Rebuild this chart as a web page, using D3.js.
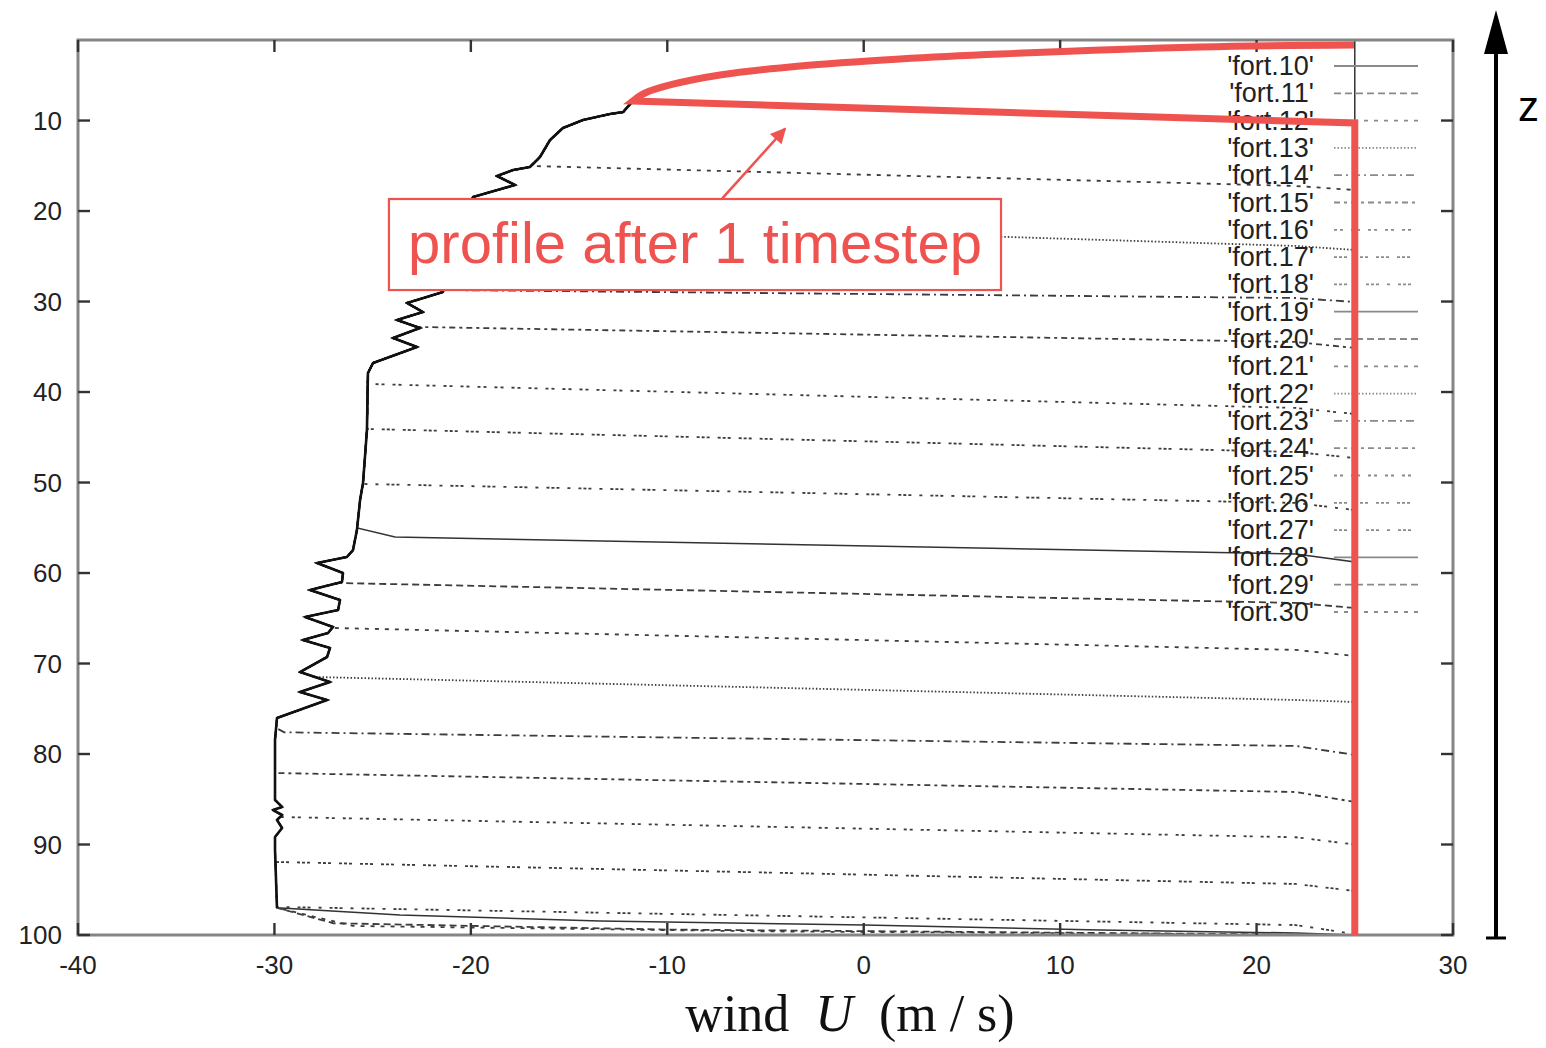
<!DOCTYPE html>
<html><head><meta charset="utf-8">
<script src="https://cdn.jsdelivr.net/npm/d3@7"></script>
<style>html,body{margin:0;padding:0;background:#fff;} svg{display:block;}</style>
</head><body><svg id="chart" width="1546" height="1048"></svg>
<script>
// Wind profiles U(z) written to fort.10 ... fort.30, one per output step.
const seriesNames = d3.range(10, 31).map(n => `'fort.${n}'`);
const xTicks = [-40, -30, -20, -10, 0, 10, 20, 30];
const yTicks = [10, 20, 30, 40, 50, 60, 70, 80, 90, 100];
const xLabel = ["wind", "U", "(m / s)"];
const boundaryU = 25;
const zTop = 1.1, zBottom = 100;

// Common upper part of every profile (u, z)
const topCurve = [
  [24.96, 1.65], [17.12, 1.87], [6.94, 2.65], [1.85, 3.20], [-3.24, 3.97],
  [-7.32, 4.97], [-9.86, 6.07], [-11.13, 6.96], [-11.75, 7.84]
];

// Region behind the fronts that all later profiles share (u, z)
const envelope = [
  [-11.75, 7.84], [-12.25, 9.06], [-12.92, 9.28], [-14.29, 9.94], [-15.31, 10.82],
  [-15.97, 12.15], [-16.48, 14.03], [-16.99, 15.13], [-17.85, 15.47], [-18.67, 16.13],
  [-17.75, 17.12], [-19.89, 18.45], [-20.55, 22.1], [-21.06, 25.96], [-21.42, 28.95],
  [-23.25, 30.16], [-22.44, 31.16], [-23.76, 32.04], [-22.59, 32.92], [-23.96, 34.03],
  [-22.74, 35.02], [-24.98, 36.79], [-25.24, 37.90], [-25.29, 44.2], [-25.49, 50.05],
  [-25.64, 51.93], [-25.80, 55.25], [-26.0, 57.46], [-26.31, 58.23], [-27.83, 58.89],
  [-26.51, 60.0], [-26.56, 60.99], [-28.19, 61.88], [-26.66, 62.98], [-26.76, 64.09],
  [-28.44, 64.86], [-27.02, 65.96], [-27.27, 66.63], [-28.55, 67.40], [-27.17, 68.28],
  [-27.32, 69.28], [-28.70, 70.94], [-27.17, 72.04], [-28.70, 73.15], [-27.32, 74.03],
  [-29.87, 76.02], [-29.97, 78.45], [-29.97, 85.08], [-29.61, 85.85], [-30.07, 86.19],
  [-29.61, 86.74], [-29.87, 87.29], [-29.61, 88.17], [-29.97, 89.17], [-29.97, 90.6],
  [-29.87, 97.0]
];

// Height where each profile leaves the shared region (null: uniform start)
const frontStartZ = [null, 7.84, 15.02, 20.99, 28.73, 32.81, 39.11, 44.08, 50.16,
  55.02, 61.1, 66.07, 71.49, 77.12, 82.1, 86.96, 91.93, 96.9, 97.0, 97.0, 97.0];

// Shape of each front after it leaves the shared region (u, z)
const frontLines = [
  [],
  [[22, 10.07], [25, 10.27]],
  [[22, 17.23], [25, 17.68]],
  [[22, 23.86], [25, 24.3]],
  [[22, 29.61], [25, 30.05]],
  [[22, 34.47], [25, 35.13]],
  [[22, 41.76], [25, 42.43]],
  [[22, 46.63], [25, 47.29]],
  [[22, 52.26], [25, 53.04]],
  [[-23.86, 56.02], [22, 57.9], [25, 58.78]],
  [[22, 63.31], [25, 63.86]],
  [[22, 68.5], [25, 69.17]],
  [[22, 74.03], [25, 74.25]],
  [[-29.5, 77.6], [22, 79.11], [25, 80.1]],
  [[22, 84.2], [25, 85.3]],
  [[22, 89.2], [25, 90.0]],
  [[22, 94.36], [25, 95.14]],
  [[22, 98.9], [25, 99.9]],
  [[-23.61, 97.79], [-13.43, 98.45], [0.01, 98.9], [12.03, 99.44], [22, 99.78], [25, 100]],
  [[-27, 98.7], [-10, 99.4], [25, 100]],
  [[-26, 99.0], [-5, 99.6], [25, 100]]
];

// Profile after the first time step, highlighted
const firstStepFront = [[-11.75, 7.84], [25, 10.27], [25, 100]];
const noteText = "profile after 1 timestep";
const noteBox = { u0: -24.17, u1: 6.99, z0: 18.67, z1: 28.73 };
const noteArrow = { from: [-7.2, 18.6], to: [-4.0, 10.9] };

// gnuplot-style monochrome line types, cycling every nine files
const dashTypes = [null, "7,4", "4,6", "1.5,2", "8,4,2,4", "6,4,3,4", "3,3,3,8", "3,2,3,2,3,8", "3,2,3,2,3,8,3,8"];

const W = 1546, H = 1048;
const margin = { left: 78, right: 93, top: 40, bottom: 113 };
const x = d3.scaleLinear().domain([-40, 30]).range([margin.left, W - margin.right]);
const y = d3.scaleLinear().domain([zTop, zBottom]).range([margin.top, H - margin.bottom]);

const svg = d3.select("#chart");
const red = "#ef5350";

function envU(z) {
  for (let i = 0; i < envelope.length - 1; i++) {
    const a = envelope[i], b = envelope[i + 1];
    if (z >= a[1] && z <= b[1]) return a[0] + (b[0] - a[0]) * (z - a[1]) / (b[1] - a[1]);
  }
  return envelope[envelope.length - 1][0];
}

function profile(i) {
  if (frontStartZ[i] === null) return [[boundaryU, zTop], [boundaryU, zBottom]];
  const z0 = frontStartZ[i];
  const pts = topCurve.slice(0, -1);
  envelope.forEach(p => { if (p[1] < z0) pts.push(p); });
  pts.push([envU(z0), z0]);
  frontLines[i].forEach(p => pts.push(p));
  pts.push([boundaryU, zBottom]);
  return pts;
}

const line = d3.line().x(d => x(d[0])).y(d => y(d[1]));

// profiles
const gSeries = svg.append("g");
seriesNames.forEach((name, i) => {
  const dash = dashTypes[i % 9];
  gSeries.append("path")
    .attr("d", line(profile(i)))
    .attr("fill", "none")
    .attr("stroke", i % 9 === 0 ? "#333" : "#3c3c3c")
    .attr("stroke-width", i % 9 === 0 ? 1.5 : 1.8)
    .attr("stroke-dasharray", dash);
});
// overlapping profiles merge into a dark band behind the fronts
svg.append("path")
  .attr("d", line(envelope))
  .attr("fill", "none").attr("stroke", "#111").attr("stroke-width", 2.6)
  .attr("stroke-linejoin", "round");

// frame and ticks
const gAxes = svg.append("g");
gAxes.append("rect")
  .attr("x", x(-40)).attr("y", y(zTop))
  .attr("width", x(30) - x(-40)).attr("height", y(zBottom) - y(zTop))
  .attr("fill", "none").attr("stroke", "#858585").attr("stroke-width", 3);
const tl = 12;
xTicks.forEach(t => {
  gAxes.append("line").attr("x1", x(t)).attr("x2", x(t)).attr("y1", y(zBottom)).attr("y2", y(zBottom) - tl)
    .attr("stroke", "#333").attr("stroke-width", 2.4);
  gAxes.append("line").attr("x1", x(t)).attr("x2", x(t)).attr("y1", y(zTop)).attr("y2", y(zTop) + tl)
    .attr("stroke", "#333").attr("stroke-width", 2.4);
  gAxes.append("text").attr("x", x(t)).attr("y", y(zBottom) + 39)
    .attr("text-anchor", "middle").attr("font-family", "Liberation Sans, Arial, sans-serif")
    .attr("font-size", 26).attr("fill", "#222").text(t);
});
yTicks.forEach(t => {
  gAxes.append("line").attr("x1", x(-40)).attr("x2", x(-40) + tl).attr("y1", y(t)).attr("y2", y(t))
    .attr("stroke", "#333").attr("stroke-width", 2.4);
  gAxes.append("line").attr("x1", x(30)).attr("x2", x(30) - tl).attr("y1", y(t)).attr("y2", y(t))
    .attr("stroke", "#333").attr("stroke-width", 2.4);
  gAxes.append("text").attr("x", x(-40) - 16).attr("y", y(t) + 9)
    .attr("text-anchor", "end").attr("font-family", "Liberation Sans, Arial, sans-serif")
    .attr("font-size", 26).attr("fill", "#222").text(t);
});

// legend
const gLeg = svg.append("g");
seriesNames.forEach((name, i) => {
  const ly = 66 + i * 27.3;
  gLeg.append("text").attr("x", 1314).attr("y", ly + 9)
    .attr("text-anchor", "end").attr("font-family", "Liberation Sans, Arial, sans-serif")
    .attr("font-size", 27).attr("fill", "#222").text(name);
  gLeg.append("line").attr("x1", 1334).attr("x2", 1418).attr("y1", ly).attr("y2", ly)
    .attr("stroke", "#8a8a8a").attr("stroke-width", 1.8)
    .attr("stroke-dasharray", dashTypes[i % 9]);
});

// x-axis title
const title = svg.append("text").attr("x", 850).attr("y", 1031)
  .attr("text-anchor", "middle").attr("font-family", "Liberation Serif, Times New Roman, serif")
  .attr("font-size", 52).attr("fill", "#111");
title.append("tspan").text(xLabel[0]);
title.append("tspan").attr("dx", 26).attr("font-style", "italic").text(xLabel[1]);
title.append("tspan").attr("dx", 26).text(xLabel[2]);

// highlighted first-step profile
const curvePath = d3.line().x(d => x(d[0])).y(d => y(d[1])).curve(d3.curveCatmullRom)(topCurve);
const restPath = line(firstStepFront).replace(/^M[^L]*/, "");
svg.append("path")
  .attr("d", curvePath + restPath)
  .attr("fill", "none").attr("stroke", red).attr("stroke-width", 7)
  .attr("stroke-linejoin", "miter");

// note box and arrow
svg.append("rect")
  .attr("x", x(noteBox.u0)).attr("y", y(noteBox.z0))
  .attr("width", x(noteBox.u1) - x(noteBox.u0)).attr("height", y(noteBox.z1) - y(noteBox.z0))
  .attr("fill", "#fff").attr("stroke", red).attr("stroke-width", 2.2);
svg.append("text")
  .attr("x", (x(noteBox.u0) + x(noteBox.u1)) / 2).attr("y", (y(noteBox.z0) + y(noteBox.z1)) / 2 + 18)
  .attr("text-anchor", "middle").attr("font-family", "Liberation Sans, Arial, sans-serif")
  .attr("font-size", 58).attr("fill", red).text(noteText);
const defs = svg.append("defs");
defs.append("marker").attr("id", "redHead").attr("viewBox", "0 0 10 10")
  .attr("refX", 9).attr("refY", 5).attr("markerWidth", 7).attr("markerHeight", 6)
  .attr("orient", "auto").attr("markerUnits", "strokeWidth")
  .append("path").attr("d", "M0,0 L10,5 L0,10 Z").attr("fill", red);
svg.append("line")
  .attr("x1", x(noteArrow.from[0])).attr("y1", y(noteArrow.from[1]))
  .attr("x2", x(noteArrow.to[0])).attr("y2", y(noteArrow.to[1]))
  .attr("stroke", red).attr("stroke-width", 2.6).attr("marker-end", "url(#redHead)");

// height axis arrow
const ax = 1496;
svg.append("line").attr("x1", ax).attr("x2", ax).attr("y1", y(zBottom) + 3).attr("y2", 40)
  .attr("stroke", "#000").attr("stroke-width", 4);
svg.append("line").attr("x1", ax - 10).attr("x2", ax + 10).attr("y1", y(zBottom) + 3).attr("y2", y(zBottom) + 3)
  .attr("stroke", "#000").attr("stroke-width", 3);
svg.append("path").attr("d", `M${ax},10 L${ax - 12},54 L${ax + 12},54 Z`).attr("fill", "#000");
svg.append("text").attr("x", 1518).attr("y", 121)
  .attr("font-family", "Liberation Sans, Arial, sans-serif").attr("font-size", 42).attr("fill", "#000").text("z");
</script>
</body></html>
